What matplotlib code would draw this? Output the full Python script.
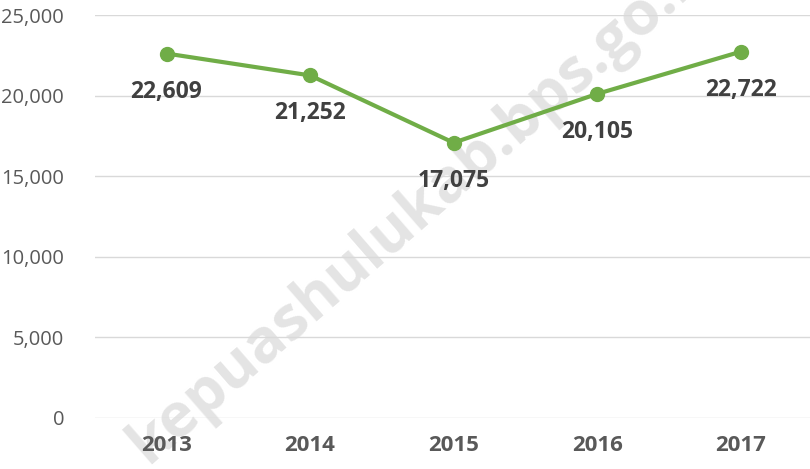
import matplotlib.pyplot as plt
from matplotlib.ticker import FuncFormatter

years = ['2013', '2014', '2015', '2016', '2017']
values = [22609, 21252, 17075, 20105, 22722]
yticks = [0, 5000, 10000, 15000, 20000, 25000]

plt.rcParams['font.family'] = ['Open Sans', 'DejaVu Sans']

fig = plt.figure(figsize=(8.1, 4.69), dpi=100)
ax = fig.add_axes([0.117, 0.109, 0.886, 0.859])

x = range(len(years))
ax.plot(x, values, color='#70AD47', lw=3, marker='o', ms=10, zorder=3)

for i, v in enumerate(values):
    ax.annotate(f'{v:,}', (i, v), xytext=(0, -38), textcoords='offset pixels',
                ha='center', va='center', fontsize=16.5, fontweight='bold',
                color='#404040', zorder=4)

ax.set_xlim(-0.5, len(years) - 0.5)
ax.set_ylim(0, 25000)
ax.set_yticks(yticks)
ax.yaxis.set_major_formatter(FuncFormatter(lambda v, p: f'{int(v):,}'))
ax.set_xticks(list(x))
ax.set_xticklabels(years, fontsize=16, fontweight='bold', color='#595959')
ax.tick_params(axis='y', labelsize=14.5, labelcolor='#595959', length=0, pad=22)
ax.tick_params(axis='x', length=0, pad=12)
ax.grid(axis='y', color='#D9D9D9', lw=1)
ax.set_axisbelow(True)
for s in ax.spines.values():
    s.set_visible(False)

# watermark, under the grid, ticks, line and labels
ax.text(0.524, 0.566, 'kepuashulukab.bps.go.id', transform=fig.transFigure,
        rotation=41, ha='center', va='center', fontsize=44, fontweight='bold',
        color='#E4E4E4', zorder=0.4, clip_on=False)

fig.savefig('out.png', dpi=100)
